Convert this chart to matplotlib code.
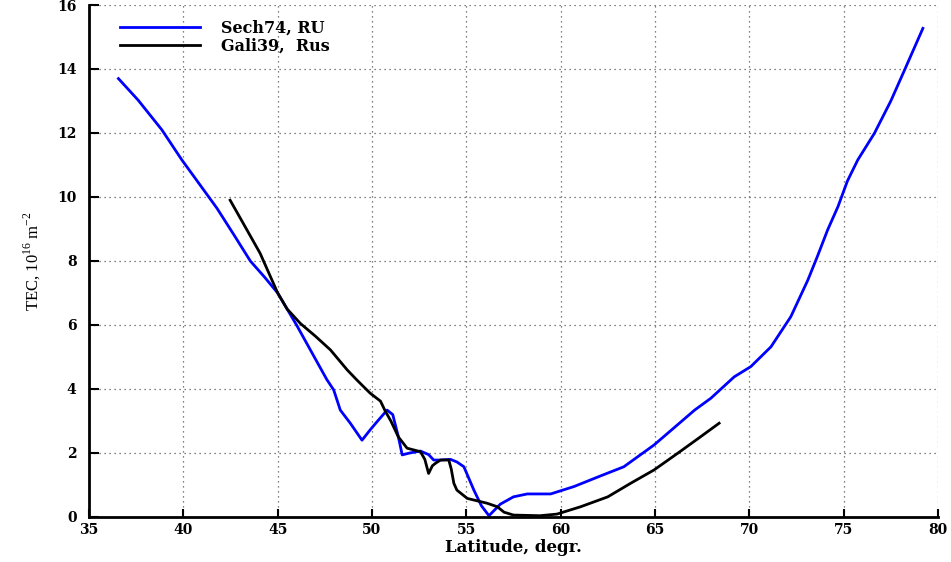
import matplotlib
matplotlib.use('Agg')
import matplotlib.pyplot as plt

# Sech74, RU (blue)
sech_lat = [36.56, 37.6, 38.86, 39.92, 40.98, 41.78, 42.7, 43.55, 44.3, 45.0, 46.0, 46.8, 47.6,
            47.97, 48.32, 48.85, 49.47, 49.9, 50.27, 50.8, 51.1, 51.4, 51.6, 52.0,
            52.57, 53.0, 53.27, 53.6, 54.16, 54.5, 54.87, 55.4, 55.8, 56.2, 56.8,
            57.5, 58.23, 59.47, 60.7, 62.1, 63.35, 64.95, 67.1, 67.96, 69.2, 70.08,
            71.15, 72.2, 73.1, 73.6, 74.15, 74.7, 75.2, 75.75, 76.63, 77.5, 78.23,
            78.7, 79.2]
sech_tec = [13.7, 13.03, 12.1, 11.16, 10.3, 9.65, 8.8, 8.0, 7.5, 7.0, 6.0, 5.15, 4.3,
            3.97, 3.34, 2.93, 2.4, 2.72, 2.98, 3.34, 3.2, 2.5, 1.94, 2.0,
            2.06, 1.95, 1.78, 1.78, 1.8, 1.72, 1.57, 0.84, 0.35, 0.04, 0.4,
            0.63, 0.72, 0.72, 0.95, 1.28, 1.57, 2.25, 3.34, 3.71, 4.38, 4.7,
            5.32, 6.26, 7.4, 8.13, 8.97, 9.7, 10.5, 11.16, 11.99, 13.0, 13.97,
            14.6, 15.27]

# Gali39, Rus (black)
gali_lat = [42.48, 43.2, 44.07, 45.0, 45.5, 46.2, 47.0, 47.8, 48.68, 49.2, 49.9,
            50.45, 50.71, 51.0, 51.4, 51.86, 52.57, 52.8, 53.0, 53.2, 53.37, 53.63,
            54.07, 54.2, 54.34, 54.5, 55.05, 56.1, 56.64, 57.0, 57.5, 58.9, 59.8,
            61.06, 62.5, 63.7, 64.95, 66.2, 67.4, 68.4]
gali_tec = [9.9, 9.15, 8.24, 7.0, 6.5, 6.05, 5.65, 5.22, 4.6, 4.28, 3.87,
            3.62, 3.3, 3.0, 2.5, 2.15, 2.04, 1.8, 1.36, 1.6, 1.68, 1.78,
            1.78, 1.5, 1.05, 0.84, 0.58, 0.43, 0.32, 0.15, 0.06, 0.04, 0.09,
            0.32, 0.63, 1.05, 1.47, 1.99, 2.5, 2.93]

plt.rcParams['font.family'] = 'DejaVu Serif'
plt.rcParams['mathtext.fontset'] = 'custom'
plt.rcParams['mathtext.rm'] = 'Liberation Serif'

fig = plt.figure(figsize=(9.51, 5.62), dpi=100)
ax = fig.add_axes([0.0936, 0.0801, 0.8927, 0.911])

ax.plot(sech_lat, sech_tec, color='#0000ff', lw=2.0, label='Sech74, RU')
ax.plot(gali_lat, gali_tec, color='black', lw=2.0, label='Gali39,  Rus')

ax.set_xlim(35, 80)
ax.set_ylim(0, 16)
ax.set_xticks(range(35, 81, 5))
ax.set_yticks(range(0, 17, 2))
ax.grid(True, linestyle=(0, (1, 3)), color='0.35', lw=0.9)

for side in ['top', 'right']:
    ax.spines[side].set_visible(False)
for side in ['left', 'bottom']:
    ax.spines[side].set_linewidth(2)
ax.tick_params(axis='y', direction='in', length=7, width=1.5, labelsize=10, pad=9)
ax.tick_params(axis='x', direction='in', length=6, width=1.5, labelsize=10, pad=4)
for lbl in ax.get_xticklabels() + ax.get_yticklabels():
    lbl.set_fontweight('bold')

ax.set_xlabel('Latitude, degr.', fontsize=12, fontweight='bold', labelpad=2)
ax.set_ylabel(r'TEC, 10$^{16}$ m$^{-2}$', family='Liberation Serif', fontsize=12, labelpad=10)

leg = ax.legend(loc='upper left', frameon=False, prop={'weight': 'bold', 'size': 11.5},
                handlelength=5.0, handletextpad=1.3, borderaxespad=0.5, labelspacing=0.1,
                bbox_to_anchor=(0.02, 1.0))

fig.savefig('out.png', dpi=100)
